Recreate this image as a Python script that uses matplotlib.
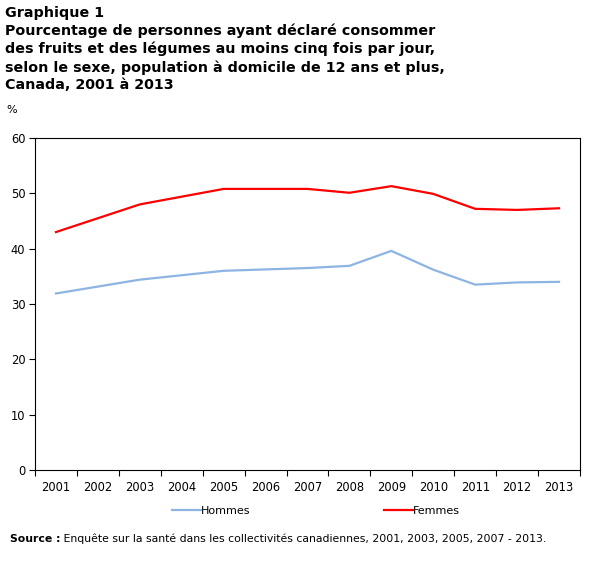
import numpy as np
import matplotlib
matplotlib.use("Agg")
import matplotlib.pyplot as plt

years = ["2001", "2002", "2003", "2004", "2005", "2006", "2007",
         "2008", "2009", "2010", "2011", "2012", "2013"]
hommes = [31.9, None, 34.4, None, 36.0, None, 36.5, 36.9, 39.6, 36.2, 33.5, 33.9, 34.0]
femmes = [43.0, None, 48.0, None, 50.8, None, 50.8, 50.1, 51.3, 49.9, 47.2, 47.0, 47.3]

title = ("Graphique 1\n"
         "Pourcentage de personnes ayant déclaré consommer\n"
         "des fruits et des légumes au moins cinq fois par jour,\n"
         "selon le sexe, population à domicile de 12 ans et plus,\n"
         "Canada, 2001 à 2013")
source_bold = "Source :"
source_rest = " Enquête sur la santé dans les collectivités canadiennes, 2001, 2003, 2005, 2007 - 2013."

plt.rcParams['font.family'] = ['DejaVu Sans']

W, H = 607, 569
fig = plt.figure(figsize=(W / 100, H / 100), dpi=100)
ax = fig.add_axes([35 / W, 1 - 470 / H, (580 - 35) / W, (470 - 138) / H])

def series(vals):
    xs = [i for i, v in enumerate(vals) if v is not None]
    ys = [v for v in vals if v is not None]
    return xs, ys

hx, hy = series(hommes)
fx, fy = series(femmes)
ax.plot(hx, hy, color="#8EB4E3", lw=1.6, label="Hommes", solid_joinstyle="round")
ax.plot(fx, fy, color="#FF0000", lw=1.6, label="Femmes", solid_joinstyle="round")

ax.set_xlim(-0.5, len(years) - 0.5)
ax.set_ylim(0, 60)
ax.set_yticks(np.arange(0, 61, 10))
ax.set_xticks(np.arange(len(years)))
ax.set_xticklabels(years)
ax.set_xticks(np.arange(-0.5, len(years), 1), minor=True)
ax.tick_params(axis='x', which='major', length=0, labelsize=8.3, pad=8)
ax.tick_params(axis='x', which='minor', length=4, width=0.8, direction='out')
ax.tick_params(axis='y', length=4, width=0.8, direction='out', labelsize=8.3, pad=3)
for s in ax.spines.values():
    s.set_linewidth(0.8)
    s.set_color("black")

fig.text(5 / W, 1 - 6 / H, title, ha='left', va='top', fontsize=10.3,
         fontweight='bold', linespacing=1.32)
fig.text(6 / W, 1 - 110 / H, "%", ha='left', va='center', fontsize=8)

fig.legend(loc='center', bbox_to_anchor=(316 / W, 1 - 511 / H), ncol=2,
           frameon=False, fontsize=8, handlelength=2.6, handletextpad=0.0,
           columnspacing=12)

t = fig.text(10 / W, 1 - 539 / H, source_bold, ha='left', va='center',
             fontsize=7.8, fontweight='bold')
ax.annotate(source_rest, xy=(1, 0), xycoords=t, ha='left', va='bottom',
            fontsize=7.8)

fig.savefig("out.png", dpi=100)
